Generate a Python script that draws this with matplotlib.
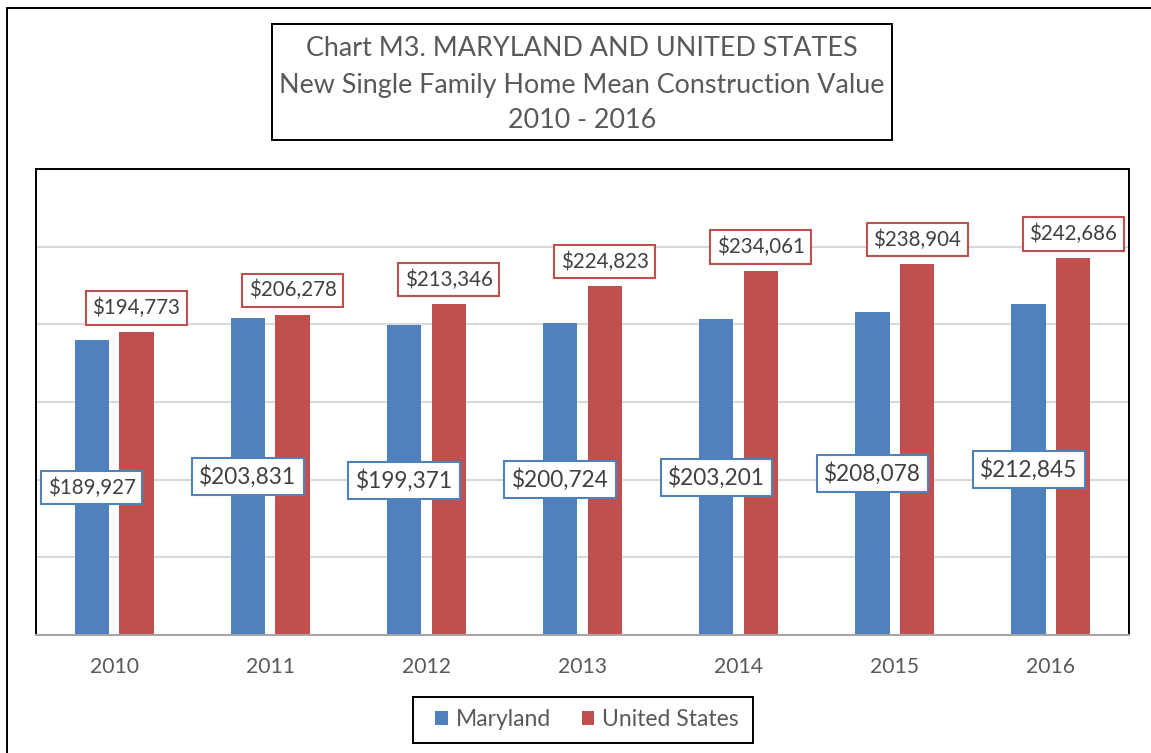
import numpy as np
import matplotlib
matplotlib.use("Agg")
import matplotlib.pyplot as plt
from matplotlib.patches import Rectangle

# Data
years = ['2010', '2011', '2012', '2013', '2014', '2015', '2016']
maryland = [189927, 203831, 199371, 200724, 203201, 208078, 212845]
united_states = [194773, 206278, 213346, 224823, 234061, 238904, 242686]
series_names = ['Maryland', 'United States']
title_lines = ['Chart M3. MARYLAND AND UNITED STATES',
               'New Single Family Home Mean Construction Value',
               '2010 - 2016']

BLUE = '#4F81BD'
RED = '#C0504D'
TEXT = '#404040'
GREY_TEXT = '#595959'

W, H = 1151, 753


def px_box(x0, y0, x1, y1):
    """Pixel box (top-left origin) -> figure fraction [left, bottom, width, height]."""
    return [x0 / W, 1 - y1 / H, (x1 - x0) / W, (y1 - y0) / H]


def frame(fig, x0, y0, x1, y1):
    l, b, w, h = px_box(x0, y0, x1, y1)
    fig.add_artist(Rectangle((l, b), w, h, transform=fig.transFigure,
                             fill=False, ec='black', lw=1.4))


plt.rcParams['font.family'] = ['Lato', 'DejaVu Sans']

fig = plt.figure(figsize=(W / 100, H / 100), dpi=100)

# Outer chart border (runs off the right and bottom edges)
frame(fig, 7, 8, 1170, 775)

# Title box
frame(fig, 272, 24, 892, 140)
for line, yc in zip(title_lines, [49, 85, 121]):
    fig.text(582 / W, 1 - yc / H, line, ha='center', va='center',
             fontsize=19.4, color=GREY_TEXT)

# Plot area
ax = fig.add_axes(px_box(36, 169, 1129, 635))
x = np.arange(len(years))
off, bw = 0.143, 0.22
ax.bar(x - off, maryland, bw, color=BLUE, label=series_names[0], zorder=3)
ax.bar(x + off, united_states, bw, color=RED, label=series_names[1], zorder=3)

ax.set_xlim(-0.5, len(years) - 0.5)
ax.set_ylim(0, 300000)
ax.set_yticks(np.arange(50000, 300000, 50000))
ax.yaxis.grid(True, color='#D9D9D9', lw=1.5, zorder=0)
ax.tick_params(axis='y', length=0, labelleft=False)
ax.set_xticks(x, years)
ax.tick_params(axis='x', length=0, pad=16, labelsize=15.2, labelcolor=GREY_TEXT)

for side in ['left', 'top', 'right']:
    ax.spines[side].set_color('black')
    ax.spines[side].set_linewidth(1.4)
ax.spines['bottom'].set_color('#A6A6A6')
ax.spines['bottom'].set_linewidth(1.5)
ax.spines['bottom'].set_zorder(4)

# Maryland labels: centred in the bar
for i, (xi, v) in enumerate(zip(x, maryland)):
    ax.text(xi - off, v / 2, f'${v:,}', ha='center', va='center',
            fontsize=14.8 if i == 0 else 16.3, color=TEXT, zorder=5,
            bbox=dict(boxstyle='square,pad=0.32', fc='white', ec=BLUE, lw=1.5))

# United States labels: above the bar
for xi, v in zip(x, united_states):
    ax.annotate(f'${v:,}', (xi + off, v), xytext=(0, 14),
                textcoords='offset pixels', ha='center', va='bottom',
                fontsize=14.8, color=TEXT, zorder=5,
                bbox=dict(boxstyle='square,pad=0.32', fc='white', ec=RED, lw=1.5))

# Legend
frame(fig, 413, 697, 753, 743)
fig.legend(loc='center', bbox_to_anchor=(587 / W, 1 - 720 / H), ncol=2,
           frameon=False, fontsize=16.5, labelcolor=GREY_TEXT,
           handlelength=0.55, handleheight=0.55, handletextpad=0.35,
           columnspacing=1.35)

fig.savefig('out.png', dpi=100, facecolor='white')
